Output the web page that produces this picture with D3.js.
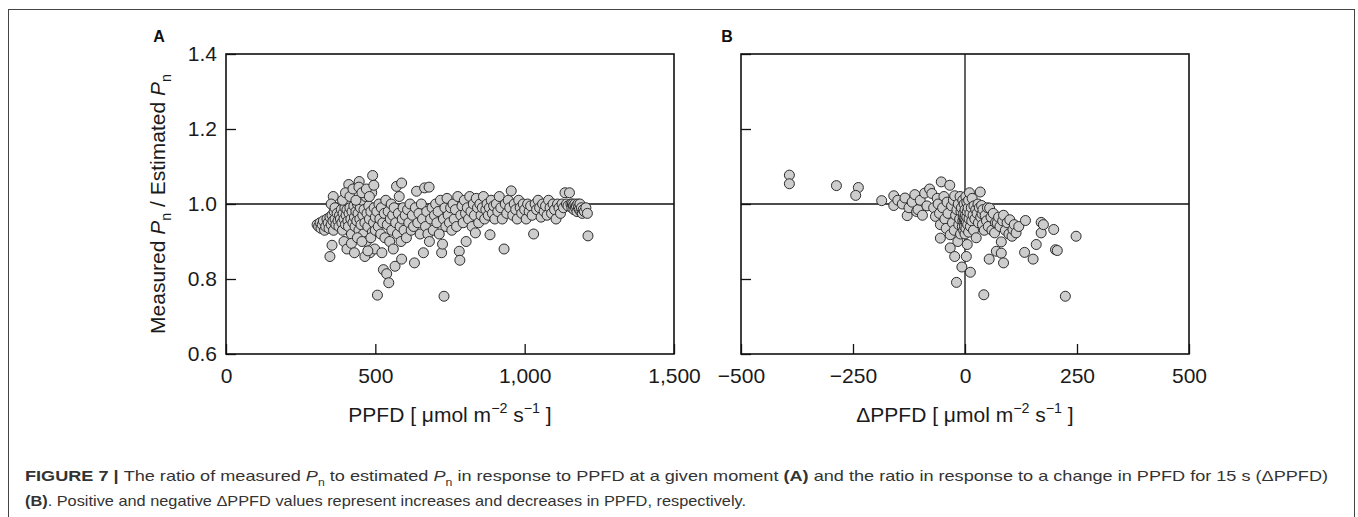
<!DOCTYPE html>
<html>
<head>
<meta charset="utf-8">
<script src="https://cdn.jsdelivr.net/npm/d3@7"></script>
<style>
  body { margin: 0; background: #fff; }
  svg { display: block; font-family: "Liberation Sans", Arial, Helvetica, sans-serif; }
</style>
</head>
<body>
<svg id="fig" width="1358" height="517"></svg>
<script>
// ---- data ----
// panel A: PPFD vs measured/estimated Pn
var ppfdA = [
  305,310,315,318,322,326,330,334,338,342,345,348,352,355,358,360,362,365,368,370,
  348,355,359,352,365,372,375,378,380,383,386,388,390,392,395,398,400,402,405,408,
  410,411,412,415,418,420,422,425,428,430,432,435,438,440,442,445,446,448,450,452,
  455,458,460,462,465,468,470,472,475,478,480,482,485,488,490,491,494,496,498,500,
  395,405,420,430,440,455,465,475,485,500,390,400,415,425,435,445,455,470,480,495,
  507,505,510,512,515,518,520,522,525,527,530,532,535,538,540,543,545,548,550,553,555,
  558,560,563,566,568,571,574,577,580,583,586,588,590,593,596,600,604,608,612,616,
  620,624,628,631,634,638,642,646,650,654,588,
  658,661,665,668,672,676,680,681,685,690,694,698,702,706,710,714,718,722,725,728,
  730,733,736,740,744,748,752,756,760,764,768,772,776,781,783,786,790,794,798,802,804,
  808,812,816,820,824,828,832,835,838,842,846,850,854,858,862,866,870,874,878,882,
  884,888,892,896,900,905,910,915,920,925,931,935,940,945,950,
  955,960,965,970,975,980,985,990,995,1000,1005,1010,1015,1020,1025,1030,1035,1040,1045,1050,
  1055,1060,1065,1070,1075,1080,1085,1090,1095,1100,1105,1110,1115,1120,1125,1130,1135,1140,1145,1150,
  1155,1158,1160,1163,1165,1168,1170,1173,1175,1178,1180,1183,1185,1188,1190,1193,1196,1200,1205,1210,1212
];
var ratioA = [
  0.945,0.94,0.95,0.935,0.945,0.955,0.93,0.94,0.96,0.95,0.935,0.965,0.945,0.97,0.955,0.93,0.98,0.96,0.945,0.99,
  0.86,0.89,1.02,1.0,0.99,0.975,0.955,0.94,0.97,0.96,0.985,0.95,0.93,0.975,0.96,0.99,0.945,0.97,0.985,0.955,
  0.94,1.052,0.975,0.99,0.96,0.92,0.98,0.95,0.995,0.965,0.94,0.98,0.955,1.0,0.975,0.93,1.06,0.96,0.99,0.945,
  1.01,0.97,0.92,0.985,0.95,1.02,0.9,0.975,0.94,0.995,0.96,0.87,0.98,1.03,0.925,1.076,0.95,0.99,0.88,0.965,
  0.9,0.88,0.895,0.87,0.91,0.9,0.86,0.875,0.91,0.93,1.01,1.03,1.02,1.04,1.01,1.045,1.03,1.04,1.02,1.05,
  0.757,0.98,0.94,1.0,0.96,0.92,0.99,0.87,0.95,0.825,0.975,0.91,1.01,0.814,0.945,0.98,0.79,0.9,0.96,1.0,0.93,
  0.97,0.88,0.99,0.834,0.95,1.047,0.92,0.975,1.02,0.94,0.9,1.056,0.96,0.99,0.93,0.97,0.91,0.985,0.95,1.0,
  0.93,0.97,0.94,0.843,0.99,1.034,0.95,0.975,0.92,1.0,0.853,
  0.96,0.87,1.043,0.94,0.98,0.92,1.045,0.9,0.96,0.99,0.93,0.97,1.0,0.95,0.98,0.92,1.01,0.87,0.893,0.96,
  0.754,0.99,0.94,1.015,0.97,0.95,0.99,0.93,1.0,0.96,0.985,0.94,1.02,0.874,0.85,0.97,0.995,0.95,1.01,0.975,0.9,
  0.99,0.96,1.02,0.98,0.94,1.0,0.97,0.923,1.015,0.99,0.95,1.0,0.97,0.99,1.02,0.96,0.985,1.0,0.97,0.99,
  0.918,1.01,0.975,0.995,0.96,1.0,0.98,1.02,0.99,0.96,0.88,1.0,0.975,1.01,0.99,
  1.035,0.97,1.0,0.985,0.96,1.01,0.99,0.975,1.0,0.985,0.96,1.0,0.98,0.995,0.97,0.92,1.0,0.985,1.01,0.99,
  0.965,1.0,0.98,0.995,0.97,1.01,0.99,0.975,1.0,0.985,0.96,1.0,0.99,0.975,1.0,0.99,1.03,1.0,0.995,1.03,
  1.0,0.99,1.0,0.995,0.985,1.0,0.99,0.995,0.98,1.0,0.99,0.985,1.0,0.98,0.99,0.975,0.985,0.98,0.99,0.975,0.915
];

// panel B: change in PPFD over 15 s vs measured/estimated Pn
var dppfdB = [
  -392,-392,-287,-238,-244,-186,-159,-159,-150,-140,
  -134,-129,-125,-118,-112,-108,-105,-100,-95,-90,
  -85,-79,-74,-70,-66,-62,-60,-57,-55,-55,
  -53,-50,-47,-45,-42,-40,-38,-34,-33,-33,
  -30,-28,-26,-24,-23,-23,-21,-19,-18,-16,
  -15,-14,-12,-11,-10,-9,-8,-7,-6,-5,
  -5,-4,-3,-3,-2,-2,-1,-1,0,0,
  1,1,2,2,3,3,4,4,5,5,
  6,7,8,8,9,10,11,12,12,14,
  15,16,18,19,20,22,24,25,27,29,
  30,32,34,35,37,38,39,40,42,43,
  45,48,50,52,54,55,58,60,63,66,
  68,70,72,75,78,81,81,84,86,86,
  90,94,98,100,105,107,110,114,120,133,
  135,152,159,170,170,175,198,202,206,224,
  248
];
var ratioB = [
  1.077,1.054,1.049,1.044,1.023,1.009,1.022,0.996,1.01,1.0,
  1.016,0.969,0.99,1.005,1.025,0.98,0.985,1.01,0.97,1.029,
  0.995,1.04,1.028,0.99,0.967,1.015,1.0,0.975,0.945,0.909,
  1.059,0.99,1.02,0.96,0.935,1.005,0.975,1.05,0.918,0.883,
  0.995,0.95,1.01,0.93,1.022,0.86,0.97,0.791,0.985,0.9,
  1.0,0.945,0.96,1.02,0.92,0.98,0.99,0.832,0.94,0.955,
  1.01,0.965,0.93,0.975,0.95,1.0,0.96,0.94,0.985,0.92,
  0.955,0.97,0.935,1.02,0.86,0.95,1.005,0.965,0.892,0.98,
  0.945,0.99,0.925,1.01,0.96,1.03,0.975,0.818,0.94,0.99,
  0.955,1.015,0.97,0.93,0.995,0.96,0.985,0.91,0.975,1.0,
  0.95,0.99,1.032,0.965,0.996,0.974,0.945,0.985,0.758,0.93,
  0.97,0.955,0.99,0.94,0.853,0.989,0.965,0.93,0.975,0.923,
  0.95,0.874,0.949,0.965,0.94,0.869,0.899,0.955,0.843,0.97,
  0.93,0.95,0.92,0.958,0.914,0.932,0.945,0.923,0.94,0.871,
  0.956,0.853,0.892,0.951,0.923,0.945,0.932,0.878,0.876,0.754,
  0.914
];

var ticksYRatio = [0.6, 0.8, 1.0, 1.2, 1.4];
var ticksXA = [0, 500, 1000, 1500];
var ticksXB = [-500, -250, 0, 250, 500];

// ---- layout ----
var svg = d3.select("#fig");
var plotTop = 54, plotBottom = 354;
var panelA = { left: 226, right: 674 };
var panelB = { left: 741, right: 1189 };
var fs = 21;

// figure frame
svg.append("rect")
    .attr("x", 8.5).attr("y", 9.5)
    .attr("width", 1346).attr("height", 560)
    .attr("fill", "none")
    .attr("stroke", "#444")
    .attr("stroke-width", 1);

var y = d3.scaleLinear().domain([0.6, 1.4]).range([plotBottom, plotTop]);

// writes text made of plain / italic / sub / sup parts
function rich(sel, parts, size) {
    var shift = 0;
    parts.forEach(function(p) {
        var target = p.sub ? size * 0.3 : (p.sup ? -size * 0.42 : 0);
        var ts = sel.append("tspan")
            .attr("dy", target - shift)
            .text(p.t);
        if (p.sub || p.sup) ts.attr("font-size", size * 0.68);
        if (p.i) ts.attr("font-style", "italic");
        if (p.b) ts.attr("font-weight", "bold");
        shift = target;
    });
}

function drawPanel(cfg) {
    var x = d3.scaleLinear().domain(cfg.xdomain).range([cfg.left, cfg.right]);
    var g = svg.append("g");

    // reference lines (behind points)
    g.append("line")
        .attr("x1", cfg.left).attr("x2", cfg.right)
        .attr("y1", y(1.0)).attr("y2", y(1.0))
        .attr("stroke", "#111").attr("stroke-width", 1.3);
    if (cfg.vline) {
        g.append("line")
            .attr("x1", x(0)).attr("x2", x(0))
            .attr("y1", plotTop).attr("y2", plotBottom)
            .attr("stroke", "#111").attr("stroke-width", 1.3);
    }

    // points
    g.append("g").selectAll("circle")
        .data(cfg.xs)
        .enter().append("circle")
        .attr("cx", function(d) { return x(d); })
        .attr("cy", function(d, i) { return y(cfg.ys[i]); })
        .attr("r", 5)
        .attr("fill", "#cdcdcd")
        .attr("stroke", "#2b2b2b")
        .attr("stroke-width", 1);

    // axes with inward ticks
    var ax = g.append("g")
        .attr("transform", "translate(0," + plotBottom + ")")
        .call(d3.axisBottom(x).tickValues(cfg.xticks).tickFormat(cfg.xfmt)
            .tickSizeInner(-10).tickSizeOuter(0).tickPadding(14));
    var ay = g.append("g")
        .attr("transform", "translate(" + cfg.left + ",0)")
        .call(d3.axisLeft(y).tickValues(ticksYRatio)
            .tickFormat(cfg.ylabels ? d3.format(".1f") : "")
            .tickSizeInner(-10).tickSizeOuter(0).tickPadding(9));
    [ax, ay].forEach(function(a) {
        a.select(".domain").remove();
        a.selectAll(".tick line").attr("stroke", "#111").attr("stroke-width", 1.3);
        a.selectAll(".tick text")
            .attr("fill", "#1a1a1a")
            .style("font-size", fs + "px")
            .style("font-family", "'Liberation Sans', Arial, sans-serif");
    });

    // frame
    g.append("rect")
        .attr("x", cfg.left).attr("y", plotTop)
        .attr("width", cfg.right - cfg.left).attr("height", plotBottom - plotTop)
        .attr("fill", "none").attr("stroke", "#111").attr("stroke-width", 1.6);

    // panel letter
    svg.append("text")
        .attr("x", cfg.letterX).attr("y", 42)
        .attr("text-anchor", "middle")
        .attr("font-weight", "bold").attr("font-size", 16)
        .attr("fill", "#111")
        .text(cfg.letter);

    // x title
    var t = svg.append("text")
        .attr("x", (cfg.left + cfg.right) / 2).attr("y", 422)
        .attr("text-anchor", "middle")
        .attr("font-size", fs).attr("fill", "#1a1a1a");
    rich(t, cfg.xtitle, fs);
}

var unit = [
    { t: " [ \u03bcmol m" }, { t: "\u22122", sup: true },
    { t: " s" }, { t: "\u22121", sup: true }, { t: " ]" }
];

drawPanel({
    left: panelA.left, right: panelA.right, xdomain: [0, 1500],
    xs: ppfdA, ys: ratioA, xticks: ticksXA, xfmt: d3.format(","),
    ylabels: true, vline: false, letter: "A", letterX: 159,
    xtitle: [{ t: "PPFD" }].concat(unit)
});
drawPanel({
    left: panelB.left, right: panelB.right, xdomain: [-500, 500],
    xs: dppfdB, ys: ratioB, xticks: ticksXB, xfmt: d3.format("d"),
    ylabels: false, vline: true, letter: "B", letterX: 727,
    xtitle: [{ t: "\u0394PPFD" }].concat(unit)
});

// y title
var yt = svg.append("text")
    .attr("transform", "translate(165," + y(1.0) + ") rotate(-90)")
    .attr("text-anchor", "middle")
    .attr("font-size", fs).attr("fill", "#1a1a1a");
rich(yt, [
    { t: "Measured " }, { t: "P", i: true }, { t: "n", sub: true },
    { t: " / Estimated " }, { t: "P", i: true }, { t: "n", sub: true }
], fs);

// caption
var cap1 = svg.append("text")
    .attr("x", 25).attr("y", 481)
    .attr("font-size", 15).attr("fill", "#333")
    .attr("textLength", 1303).attr("lengthAdjust", "spacingAndGlyphs");
rich(cap1, [
    { t: "FIGURE 7 | ", b: true },
    { t: "The ratio of measured " }, { t: "P", i: true }, { t: "n", sub: true },
    { t: " to estimated " }, { t: "P", i: true }, { t: "n", sub: true },
    { t: " in response to PPFD at a given moment " }, { t: "(A)", b: true },
    { t: " and the ratio in response to a change in PPFD for 15 s (\u0394PPFD)" }
], 15);
var cap2 = svg.append("text")
    .attr("x", 25).attr("y", 506)
    .attr("font-size", 15).attr("fill", "#333")
    .attr("textLength", 721).attr("lengthAdjust", "spacingAndGlyphs");
rich(cap2, [
    { t: "(B)", b: true },
    { t: ". Positive and negative \u0394PPFD values represent increases and decreases in PPFD, respectively." }
], 15);
</script>
</body>
</html>
